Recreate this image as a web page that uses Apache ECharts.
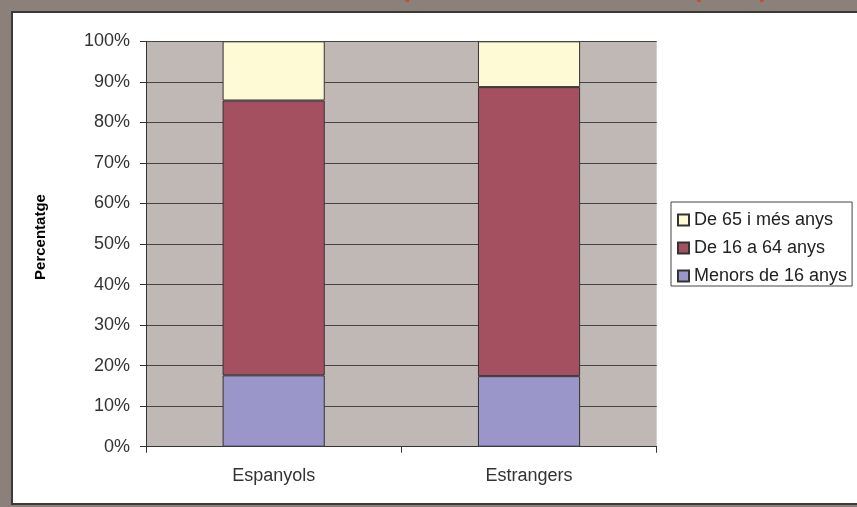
<!DOCTYPE html>
<html>
<head>
<meta charset="utf-8">
<script src="https://cdn.jsdelivr.net/npm/echarts@6/dist/echarts.min.js"></script>
<style>html,body{margin:0;padding:0;background:#fff;}#c{width:857px;height:507px;}</style>
</head>
<body>
<div id="c"></div>
<script>
var categories = ['Espanyols', 'Estrangers'];
var menors16 = [17.6, 17.4];
var de16a64 = [67.8, 71.3];
var de65mes = [14.6, 11.3];
var seriesNames = ['Menors de 16 anys', 'De 16 a 64 anys', 'De 65 i més anys'];
var titleText = 'Estructura per edats i nacionalitat (2008)';
var yAxisTitle = 'Percentatge';

var chart = echarts.init(document.getElementById('c'), null, {renderer: 'canvas'});
var font = 'Liberation Sans, Arial, sans-serif';
var colors = ['#9b96c9', '#a55060', '#fffad6'];
var values = [menors16, de16a64, de65mes];

chart.setOption({
  animation: false,
  backgroundColor: '#8c807b',
  textStyle: {fontFamily: font},
  graphic: [
    {type: 'rect', z: -10, shape: {x: 11, y: 11, width: 860, height: 494}, style: {fill: '#3a3a3a'}},
    {type: 'rect', z: -9, shape: {x: 13, y: 13, width: 860, height: 490}, style: {fill: '#ffffff'}},
    {type: 'text', z: 100, x: 768, y: -10.5, style: {text: titleText, fill: '#c0502a', font: 'bold 26px ' + font, align: 'right', verticalAlign: 'middle'}},
    {type: 'text', z: 100, x: 40.5, y: 237, rotation: Math.PI / 2, style: {text: yAxisTitle, fill: '#000', font: 'bold 15px ' + font, align: 'center', verticalAlign: 'middle'}}
  ],
  grid: {left: 146, top: 41.3, right: 200.3, bottom: 60.3, show: true, backgroundColor: '#c0b8b5', borderWidth: 0},
  legend: {
    orient: 'vertical', left: 671, top: 202,
    data: [seriesNames[2], seriesNames[1], seriesNames[0]],
    backgroundColor: '#fff', borderColor: '#444', borderWidth: 1,
    padding: [9, 5, 1, 6], itemGap: 10, itemWidth: 11, itemHeight: 11,
    icon: 'rect',
    textStyle: {fontSize: 18, color: '#222', fontFamily: font, padding: [0, 0, 0, 0]}
  },
  xAxis: {
    type: 'category', data: categories, boundaryGap: true,
    axisLine: {lineStyle: {color: '#333', width: 1}},
    axisTick: {show: true, length: 6, lineStyle: {color: '#333'}},
    axisLabel: {fontSize: 18, color: '#333', margin: 20, fontFamily: font},
    splitLine: {show: false}
  },
  yAxis: {
    type: 'value', min: 0, max: 100, interval: 10,
    axisLine: {show: true, lineStyle: {color: '#333', width: 1}},
    axisTick: {show: true, length: 6, lineStyle: {color: '#333'}},
    axisLabel: {fontSize: 18, color: '#333', margin: 16, formatter: '{value}%', fontFamily: font},
    splitLine: {show: true, lineStyle: {color: '#444', width: 1}}
  },
  series: seriesNames.map(function (n, i) {
    return {
      name: n, type: 'bar', stack: 'total', barWidth: '40%',
      data: values[i],
      itemStyle: {color: colors[i], borderColor: '#333', borderWidth: 1}
    };
  })
});
</script>
</body>
</html>
